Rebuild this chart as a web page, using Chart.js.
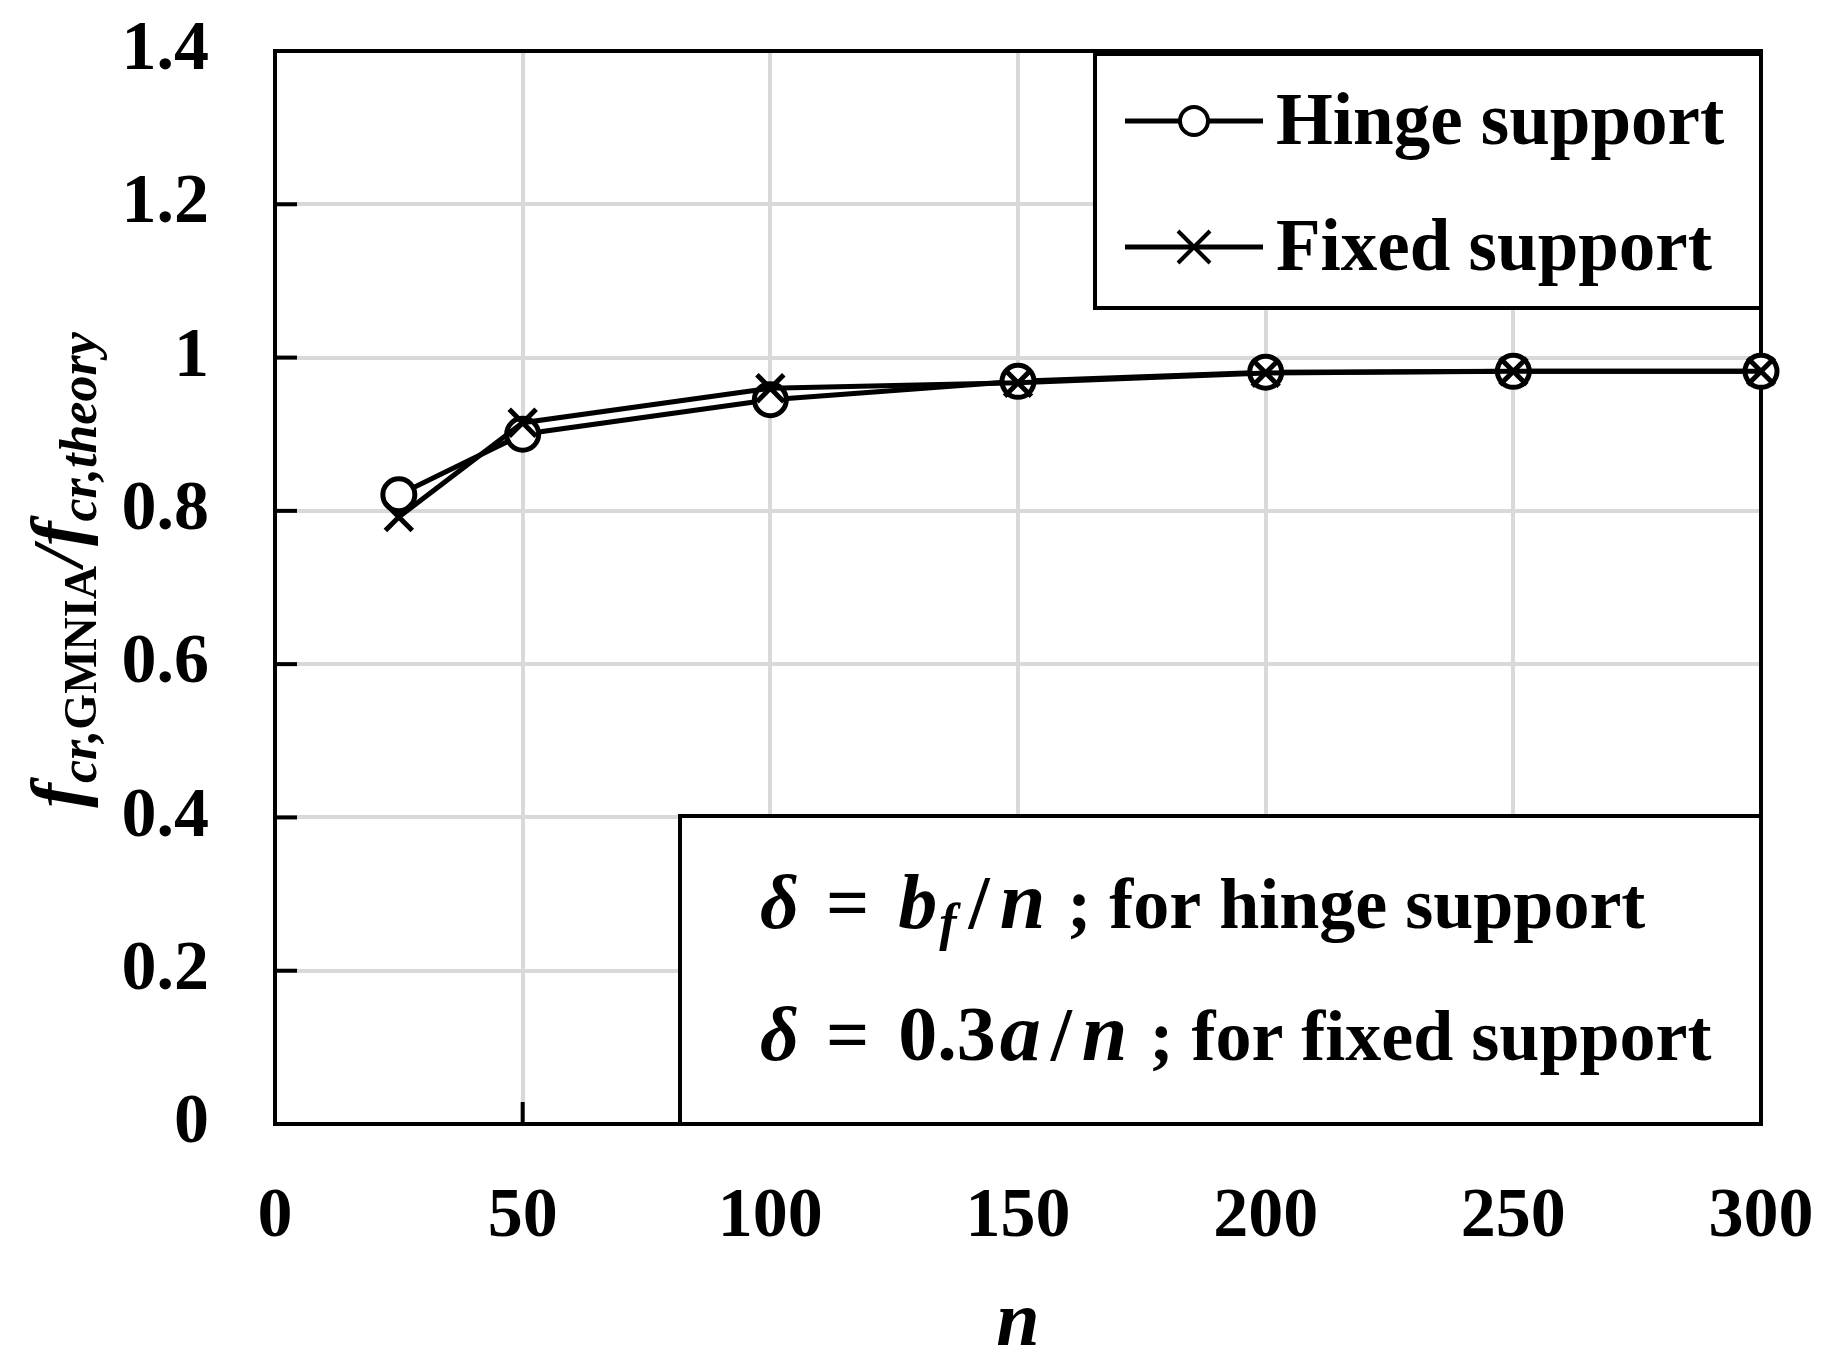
<!DOCTYPE html>
<html>
<head>
<meta charset="utf-8">
<script src="https://cdn.jsdelivr.net/npm/chart.js@4.4.0/dist/chart.umd.min.js"></script>
<style>
  html, body { margin: 0; padding: 0; background: #fff; }
  #wrap { width: 1843px; height: 1371px; }
</style>
</head>
<body>
<div id="wrap"><canvas id="chart" width="1843" height="1371"></canvas></div>
<script>
// Data
const nValues = [25, 50, 100, 150, 200, 250, 300];
const hingeValues = [0.821, 0.900, 0.945, 0.969, 0.981, 0.982, 0.982];
const fixedValues = [0.792, 0.915, 0.960, 0.967, 0.980, 0.982, 0.982];
const seriesNames = ['Hinge support', 'Fixed support'];
const xTickLabels = ['0', '50', '100', '150', '200', '250', '300'];
const yTickLabels = ['0', '0.2', '0.4', '0.6', '0.8', '1', '1.2', '1.4'];

const SERIF = '"Liberation Serif", "Times New Roman", serif';
const bold = s => 'bold ' + s + 'px ' + SERIF;
const boldIt = s => 'italic bold ' + s + 'px ' + SERIF;

// Draw a row of text pieces with different fonts / baselines
function drawRuns(ctx, runs, x, y) {
    runs.forEach(r => {
        ctx.font = r.font;
        ctx.fillText(r.text, x, y + (r.dy || 0));
        x += ctx.measureText(r.text).width + (r.gap || 0);
    });
}
function runsWidth(ctx, runs) {
    let w = 0;
    runs.forEach(r => { ctx.font = r.font; w += ctx.measureText(r.text).width + (r.gap || 0); });
    return w;
}

function drawMarker(ctx, type, x, y) {
    ctx.lineWidth = 4;
    ctx.strokeStyle = '#000';
    if (type === 'circle') {
        ctx.beginPath();
        ctx.arc(x, y, 14, 0, Math.PI * 2);
        ctx.fillStyle = '#fff';
        ctx.fill();
        ctx.stroke();
    } else {
        const h = 16;
        ctx.beginPath();
        ctx.moveTo(x - h, y - h); ctx.lineTo(x + h, y + h);
        ctx.moveTo(x + h, y - h); ctx.lineTo(x - h, y + h);
        ctx.stroke();
    }
}

const framePlugin = {
    id: 'frame',
    beforeDatasetsDraw(chart) {
        const { ctx, chartArea: a, scales: { x, y } } = chart;
        ctx.save();
        ctx.strokeStyle = '#000';
        ctx.lineWidth = 4;
        // tick marks pointing inwards
        x.ticks.forEach(t => {
            const px = x.getPixelForValue(t.value);
            ctx.beginPath(); ctx.moveTo(px, a.bottom); ctx.lineTo(px, a.bottom - 22); ctx.stroke();
        });
        y.ticks.forEach(t => {
            const py = y.getPixelForValue(t.value);
            ctx.beginPath(); ctx.moveTo(a.left, py); ctx.lineTo(a.left + 22, py); ctx.stroke();
        });
        ctx.strokeRect(a.left, a.top, a.right - a.left, a.bottom - a.top);
        ctx.restore();
    },
    afterDraw(chart) {
        const { ctx } = chart;
        ctx.save();
        ctx.textBaseline = 'alphabetic';
        ctx.textAlign = 'left';

        // legend box
        ctx.fillStyle = '#fff';
        ctx.fillRect(1095, 54, 666, 254);
        ctx.strokeStyle = '#000';
        ctx.lineWidth = 4;
        ctx.strokeRect(1095, 54, 666, 254);
        const legendRows = [
            { name: seriesNames[0], marker: 'circle', y: 121 },
            { name: seriesNames[1], marker: 'cross', y: 247 }
        ];
        legendRows.forEach(r => {
            ctx.lineWidth = 5;
            ctx.beginPath(); ctx.moveTo(1125, r.y); ctx.lineTo(1263, r.y); ctx.stroke();
            drawMarker(ctx, r.marker, 1194, r.y);
            ctx.fillStyle = '#000';
            ctx.font = bold(73);
            ctx.fillText(r.name, 1276, r.y + 23);
        });

        // formula box
        ctx.fillStyle = '#fff';
        ctx.fillRect(680, 816, 1081, 308);
        ctx.strokeStyle = '#000';
        ctx.lineWidth = 4;
        ctx.strokeRect(680, 816, 1081, 308);
        ctx.fillStyle = '#000';
        drawRuns(ctx, [
            { text: '\u03B4', font: boldIt(76), gap: 8 },
            { text: ' = ', font: bold(76), gap: 10 },
            { text: 'b', font: boldIt(78), gap: 2 },
            { text: 'f', font: boldIt(52), dy: 12, gap: 12 },
            { text: '/', font: bold(76), gap: 10 },
            { text: 'n', font: boldIt(82), gap: 4 },
            { text: ' ; for hinge support', font: bold(72) }
        ], 760, 928);
        drawRuns(ctx, [
            { text: '\u03B4', font: boldIt(76), gap: 8 },
            { text: ' = ', font: bold(76), gap: 10 },
            { text: '0.3', font: bold(78), gap: 4 },
            { text: 'a', font: boldIt(82), gap: 10 },
            { text: '/', font: bold(76), gap: 10 },
            { text: 'n', font: boldIt(82), gap: 4 },
            { text: ' ; for fixed support', font: bold(72) }
        ], 760, 1060);

        // x axis title
        ctx.textAlign = 'center';
        ctx.font = boldIt(78);
        ctx.fillText('n', 1018, 1345);

        // y axis title, rotated, with subscripts
        ctx.textAlign = 'left';
        const yRuns = [
            { text: 'f', font: boldIt(74) },
            { text: 'cr,', font: boldIt(52), dy: 14 },
            { text: 'GMNIA', font: bold(46), dy: 14 },
            { text: '/', font: boldIt(72) },
            { text: 'f', font: boldIt(74) },
            { text: 'cr,theory', font: boldIt(52), dy: 14 }
        ];
        ctx.translate(82, 570);
        ctx.rotate(-Math.PI / 2);
        drawRuns(ctx, yRuns, -runsWidth(ctx, yRuns) / 2, 0);
        ctx.restore();
    }
};

const ctx = document.getElementById('chart');
new Chart(ctx, {
    type: 'line',
    data: {
        datasets: [
            {
                label: seriesNames[0],
                data: nValues.map((n, i) => ({ x: n, y: hingeValues[i] })),
                borderColor: '#000',
                borderWidth: 5,
                pointStyle: 'circle',
                pointRadius: 16,
                pointBorderWidth: 5,
                pointBackgroundColor: '#fff',
                pointBorderColor: '#000',
                tension: 0,
                clip: false,
                order: 2
            },
            {
                label: seriesNames[1],
                data: nValues.map((n, i) => ({ x: n, y: fixedValues[i] })),
                borderColor: '#000',
                borderWidth: 5,
                pointStyle: 'crossRot',
                pointRadius: 19,
                pointBorderWidth: 5,
                pointBorderColor: '#000',
                tension: 0,
                clip: false,
                order: 1
            }
        ]
    },
    options: {
        responsive: false,
        animation: false,
        devicePixelRatio: 1,
        layout: { padding: { top: 51, right: 82, left: 0, bottom: 0 } },
        plugins: {
            legend: { display: false },
            tooltip: { enabled: false }
        },
        scales: {
            x: {
                type: 'linear',
                min: 0,
                max: 300,
                ticks: {
                    stepSize: 50,
                    color: '#000',
                    font: { family: SERIF, size: 70, weight: 'bold' },
                    padding: 52,
                    maxRotation: 0,
                    callback: (v, i) => xTickLabels[i]
                },
                grid: { color: '#d9d9d9', lineWidth: 4, drawTicks: false },
                border: { display: false },
                afterFit: s => {
                    s.height = 247;
                    s.paddingLeft = 0; s.paddingRight = 0;
                }
            },
            y: {
                min: 0,
                max: 1.4,
                ticks: {
                    stepSize: 0.2,
                    color: '#000',
                    font: { family: SERIF, size: 70, weight: 'bold' },
                    padding: 66,
                    callback: (v, i) => yTickLabels[i]
                },
                grid: { color: '#d9d9d9', lineWidth: 4, drawTicks: false },
                border: { display: false },
                afterFit: s => {
                    s.width = 275;
                    s.paddingTop = 0; s.paddingBottom = 0;
                }
            }
        }
    },
    plugins: [framePlugin]
});
</script>
</body>
</html>
